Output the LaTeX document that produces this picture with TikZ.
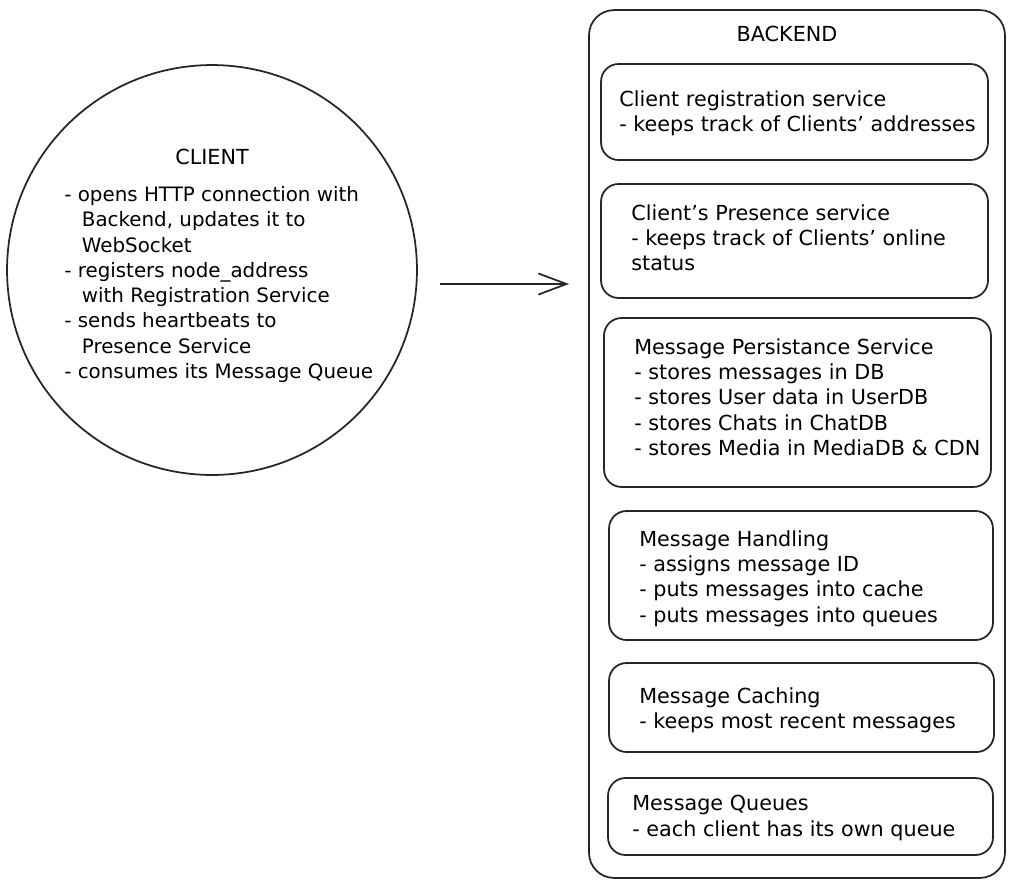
\documentclass[tikz,border=0pt]{standalone}
\usepackage{fontspec}
\setmainfont{DejaVu Sans}
\usetikzlibrary{arrows.meta}

\begin{document}
\begin{tikzpicture}[
  x=0.02cm,
  y=-0.02cm,
  sketch/.style={draw=black!85, line width=1pt},
  svc/.style={sketch, rounded corners=0.35cm, inner sep=0pt},
  txt/.style={font=\fontsize{11.8}{14.4}\selectfont, align=left, inner sep=0pt, anchor=north west},
  link/.style={sketch, -{Straight Barb[length=16pt, width=12pt, line width=1pt]}}
]
\useasboundingbox (0,0) rectangle (1015,887);

% Client side
\node[sketch, circle, minimum size=8.2cm, inner sep=0pt] (client) at (212,270) {};
\node[txt, anchor=center] (clienttitle) at (212,157) {CLIENT};
\node[txt, font=\fontsize{11.3}{14.4}\selectfont] (clienttext) at (64,186) {- opens HTTP connection with\\
  \hspace*{10pt}Backend, updates it to\\
  \hspace*{10pt}WebSocket\\
  - registers node\_address\\
  \hspace*{10pt}with Registration Service\\
  - sends heartbeats to\\
  \hspace*{10pt}Presence Service\\
  - consumes its Message Queue};

% Backend container and its services
\node[svc, rounded corners=0.5cm, minimum width=8.32cm, minimum height=17.36cm] (backend) at (797,444) {};
\node[txt, anchor=center] (backendtitle) at (787,34) {BACKEND};

\node[svc, minimum width=7.74cm, minimum height=1.92cm] (regbox) at (794.5,112) {};
\node[txt] (regtext) at (619,90) {Client registration service\\
  - keeps track of Clients' addresses};

\node[svc, minimum width=7.74cm, minimum height=2.28cm] (presbox) at (794.5,241) {};
\node[txt] (prestext) at (631,204) {Client's Presence service\\
  - keeps track of Clients' online\\
  status};

\node[svc, minimum width=7.74cm, minimum height=3.38cm] (persbox) at (797.5,402.5) {};
\node[txt] (perstext) at (634,338) {Message Persistance Service\\
  - stores messages in DB\\
  - stores User data in UserDB\\
  - stores Chats in ChatDB\\
  - stores Media in MediaDB \& CDN};

\node[svc, minimum width=7.68cm, minimum height=2.58cm] (handbox) at (801,575.5) {};
\node[txt] (handtext) at (639,530) {Message Handling\\
  - assigns message ID\\
  - puts messages into cache\\
  - puts messages into queues};

\node[svc, minimum width=7.70cm, minimum height=1.78cm] (cachebox) at (801.5,707.5) {};
\node[txt] (cachetext) at (639,687) {Message Caching\\
  - keeps most recent messages};

\node[svc, minimum width=7.70cm, minimum height=1.54cm] (queuebox) at (800.5,816.5) {};
\node[txt] (queuetext) at (632,795) {Message Queues\\
  - each client has its own queue};

% Client talks to backend
\coordinate (linkfrom) at (440,284);
\coordinate (linkto) at (569,284);
\draw[link] (linkfrom) -- (linkto);

\end{tikzpicture}
\end{document}
